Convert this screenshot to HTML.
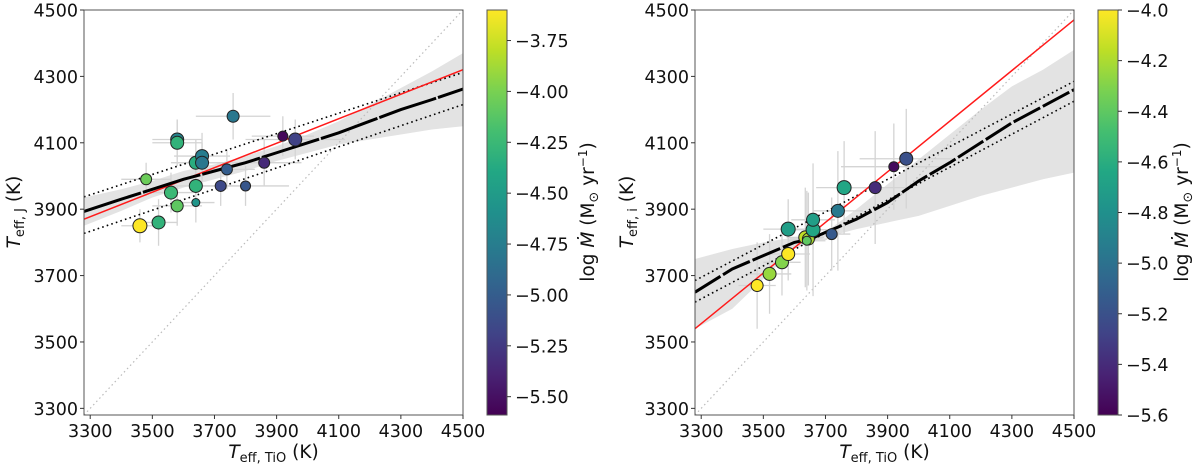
<!DOCTYPE html>
<html><head><meta charset="utf-8"><style>
body{margin:0;background:#fff;}
svg{display:block;font-family:"DejaVu Sans","Liberation Sans",sans-serif;}
</style></head><body>
<svg id="fig" width="1200" height="467" viewBox="0 0 1200 467" xmlns="http://www.w3.org/2000/svg"></svg>
<script>
// ---- data: left panel (T_eff,J vs T_eff,TiO) ----
const leftX = [3460,3480,3520,3560,3580,3580,3580,3640,3640,3640,3660,3660,3720,3740,3760,3800,3860,3920,3960];
const leftY = [3850,3990,3860,3950,3910,4110,4100,3970,4040,3920,4060,4040,3970,4020,4180,3970,4040,4120,4110];
const leftC = [-3.6,-4.05,-4.3,-4.25,-4.1,-4.7,-4.3,-4.3,-4.35,-4.55,-4.75,-4.8,-5.15,-5.0,-4.8,-5.05,-5.35,-5.55,-5.2];
const leftR = [7,5.5,6.5,6.5,6,6.5,6.5,6.5,6.5,4,6.5,6.5,5.5,5.5,6,5,5.5,5,6.5];
const leftXerr = [60,80,60,70,80,80,80,100,80,60,90,80,90,90,120,140,120,100,160];
const leftYerr = [50,50,70,60,60,60,70,60,70,60,70,60,60,60,70,60,70,60,60];
const leftFitX = [3280,3400,3500,3600,3700,3800,3900,4000,4100,4200,4300,4400,4500];
const leftFitY = [3893,3930,3960,3990,4015,4040,4070,4100,4130,4165,4200,4230,4262];
const leftBandHi = [3935,3960,3985,4015,4035,4060,4090,4125,4165,4215,4265,4315,4370];
const leftBandLo = [3850,3895,3935,3965,3990,4015,4045,4070,4095,4110,4125,4140,4150];
const leftDotHi = [3937,4312];
const leftDotLo = [3827,4215];
const leftRed = [3870,4320];
// ---- data: right panel (T_eff,i vs T_eff,TiO) ----
const rightX = [3480,3520,3560,3580,3635,3645,3640,3580,3660,3660,3720,3740,3760,3860,3920,3960];
const rightY = [3670,3705,3740,3765,3815,3810,3805,3840,3838,3868,3825,3895,3965,3965,4028,4052];
const rightC = [-4.0,-4.25,-4.3,-4.0,-4.15,-4.2,-4.4,-4.7,-4.65,-4.7,-5.15,-4.95,-4.65,-5.4,-5.55,-5.2];
const rightR = [6,6.5,6.5,6.5,6.5,6,4.5,7,7,6.5,5.5,6.5,7,6,5,6.5];
const rightXerr = [60,70,60,70,60,60,60,80,80,70,60,80,90,120,170,150];
const rightYerr = [130,120,100,80,150,140,150,90,200,90,110,180,140,170,130,150];
const rightFitX = [3280,3400,3500,3600,3650,3700,3800,3900,4000,4100,4200,4300,4400,4500];
const rightFitY = [3650,3720,3760,3800,3810,3830,3870,3920,3985,4040,4100,4160,4210,4260];
const rightBandHi = [3750,3780,3800,3815,3820,3830,3900,3975,4050,4125,4200,4270,4320,4380];
const rightBandLo = [3540,3600,3690,3780,3800,3815,3840,3860,3880,3910,3940,3965,3990,4010];
const rightDotHi = [3685,4285];
const rightDotLo = [3620,4225];
const rightRed = [3540,4470];
const leftCbTicks = [-3.75,-4.00,-4.25,-4.50,-4.75,-5.00,-5.25,-5.50];
const rightCbTicks = [-4.0,-4.2,-4.4,-4.6,-4.8,-5.0,-5.2,-5.4,-5.6];
const axisTicks = [3300,3500,3700,3900,4100,4300,4500];

const NS="http://www.w3.org/2000/svg";
const svg=document.getElementById('fig');
const FS=17.5;
function mk(tag,attrs,parent){const e=document.createElementNS(NS,tag);for(const k in attrs)e.setAttribute(k,attrs[k]);(parent||svg).appendChild(e);return e;}
const VIR=[[68,1,84],[72,35,116],[64,67,135],[52,94,141],[41,120,142],[32,144,140],[34,167,132],[68,190,112],[121,209,81],[189,222,38],[253,231,37]];
function viridis(t){t=Math.max(0,Math.min(1,t));const s=t*(VIR.length-1);const i=Math.min(VIR.length-2,Math.floor(s));const f=s-i;const a=VIR[i],b=VIR[i+1];return `rgb(${Math.round(a[0]+(b[0]-a[0])*f)},${Math.round(a[1]+(b[1]-a[1])*f)},${Math.round(a[2]+(b[2]-a[2])*f)})`;}

function panel(o){
  const g=mk('g',{});
  
  
  const x0=o.left,x1=o.right,y0=10,y1=415;
  const xmin=3280,xmax=4500,ymin=3280,ymax=4500;
  const ppx=(x1-x0)/(xmax-xmin), ppy=(y1-y0)/(ymax-ymin);
  const sx=v=>x0+(v-xmin)*ppx, sy=v=>y1-(v-ymin)*ppy;
  const cp=mk('clipPath',{id:'cp'+o.id},g);mk('rect',{x:x0,y:y0,width:x1-x0,height:y1-y0},cp);
  const pg=mk('g',{'clip-path':`url(#cp${o.id})`},g);
  let d='M'+o.fitX.map((v,i)=>sx(v)+','+sy(o.bandHi[i])).join('L');
  for(let i=o.fitX.length-1;i>=0;i--)d+='L'+sx(o.fitX[i])+','+sy(o.bandLo[i]);
  const band=mk('path',{d:d+'Z',fill:'#e3e3e3',stroke:'none'},pg);
  
  
  const one=mk('line',{x1:sx(xmin),y1:sy(xmin),x2:sx(xmax),y2:sy(xmax),stroke:'#bbb','stroke-width':1.2,'stroke-dasharray':'1.5,3'},pg);
  
  
  for(let i=0;i<o.X.length;i++){
    const e=mk('path',{d:`M${sx(o.X[i]-o.xerr[i])},${sy(o.Y[i])}H${sx(o.X[i]+o.xerr[i])}M${sx(o.X[i])},${sy(o.Y[i]-o.yerr[i])}V${sy(o.Y[i]+o.yerr[i])}`,stroke:'#d4d4d4','stroke-width':1.3,fill:'none'},pg);
    
    
  }
  [[o.dotHi,'upper-dotted-line'],[o.dotLo,'lower-dotted-line']].forEach(([a,n])=>{
    const l=mk('line',{x1:sx(xmin),y1:sy(a[0]),x2:sx(xmax),y2:sy(a[1]),stroke:'#000','stroke-width':1.6,'stroke-dasharray':'1.6,3.2'},pg);
    
    
  });
  const red=mk('line',{x1:sx(xmin),y1:sy(o.red[0]),x2:sx(xmax),y2:sy(o.red[1]),stroke:'#ff1a1a','stroke-width':1.5},pg);
  
  
  const fit=mk('polyline',{points:o.fitX.map((v,i)=>sx(v)+','+sy(o.fitY[i])).join(' '),fill:'none',stroke:'#000','stroke-width':3,'stroke-dasharray':o.dash},pg);
  
  
  const cr=o.cmax-o.cmin;
  for(let i=0;i<o.X.length;i++){
    const c=mk('circle',{cx:sx(o.X[i]),cy:sy(o.Y[i]),r:o.R[i],fill:viridis((o.C[i]-o.cmin)/cr),stroke:'#222','stroke-width':1},pg);
    
    
  }
  mk('rect',{x:x0,y:y0,width:x1-x0,height:y1-y0,fill:'none',stroke:'#555','stroke-width':1},g);
  axisTicks.forEach(t=>{
    mk('line',{x1:sx(t),x2:sx(t),y1:y1,y2:y1+4,stroke:'#333'},g);
    const tx=mk('text',{x:sx(t),y:y1+22,'text-anchor':'middle','font-size':FS,fill:'#111'},g);tx.textContent=t;
    
    
    mk('line',{x1:x0-4,x2:x0,y1:sy(t),y2:sy(t),stroke:'#333'},g);
    const ty=mk('text',{x:x0-6,y:sy(t)+6.5,'text-anchor':'end','font-size':FS,fill:'#111'},g);ty.textContent=t;
    
    
  });
  const xl=mk('text',{x:(x0+x1)/2,y:458,'text-anchor':'middle','font-size':18.5,fill:'#111'},g);
  xl.innerHTML='<tspan font-style="italic">T</tspan><tspan font-size="13" dy="4">eff, TiO</tspan><tspan dy="-4"> (K)</tspan>';
  
  
  const yl=mk('text',{x:0,y:0,'text-anchor':'middle','font-size':18.5,fill:'#111',transform:`translate(${o.ylx},212) rotate(-90)`},g);
  yl.innerHTML=`<tspan font-style="italic">T</tspan><tspan font-size="13" dy="4">eff, ${o.band}</tspan><tspan dy="-4"> (K)</tspan>`;
  
  
  const cb=mk('g',{},svg);
  
  
  const gr=mk('linearGradient',{id:'gr'+o.id,x1:0,y1:1,x2:0,y2:0},cb);
  for(let k=0;k<=20;k++)mk('stop',{offset:k/20,'stop-color':viridis(k/20)},gr);
  const cx0=o.cbx,cw=o.cbw;
  mk('rect',{x:cx0,y:y0,width:cw,height:y1-y0,fill:`url(#gr${o.id})`,stroke:'#555','stroke-width':1},cb);
  const cy=v=>y1-(v-o.cmin)/cr*(y1-y0);
  o.cbTicks.forEach(t=>{
    mk('line',{x1:cx0+cw,x2:cx0+cw+4,y1:cy(t),y2:cy(t),stroke:'#333'},cb);
    const tt=mk('text',{x:cx0+cw+8,y:cy(t)+6.5,'font-size':FS,fill:'#111'},cb);
    tt.textContent='\u2212'+Math.abs(t).toFixed(o.dec);
    
    
  });
  const cl=mk('text',{x:0,y:0,'text-anchor':'middle','font-size':18.5,fill:'#111',transform:`translate(${o.cblx},212) rotate(-90)`},cb);
  cl.innerHTML='log <tspan font-style="italic">Ṁ</tspan>  (M<tspan font-size="13" dy="4">⊙</tspan><tspan dy="-4"> yr</tspan><tspan font-size="12" dy="-7">−1</tspan><tspan dy="7">)</tspan>';
  
  
}
panel({id:1,name:'left-panel',left:84,right:463,X:leftX,Y:leftY,C:leftC,R:leftR,xerr:leftXerr,yerr:leftYerr,fitX:leftFitX,fitY:leftFitY,bandHi:leftBandHi,bandLo:leftBandLo,dotHi:leftDotHi,dotLo:leftDotLo,red:leftRed,cmin:-5.59,cmax:-3.60,cbTicks:leftCbTicks,dec:2,band:'J',ylx:20,cbx:487,cbw:20,cblx:594,dash:'60,2'});
panel({id:2,name:'right-panel',left:695,right:1074,X:rightX,Y:rightY,C:rightC,R:rightR,xerr:rightXerr,yerr:rightYerr,fitX:rightFitX,fitY:rightFitY,bandHi:rightBandHi,bandLo:rightBandLo,dotHi:rightDotHi,dotLo:rightDotLo,red:rightRed,cmin:-5.6,cmax:-4.0,cbTicks:rightCbTicks,dec:1,band:'i',ylx:633,cbx:1098,cbw:20,cblx:1188,dash:'30,3'});
</script>
</body></html>
